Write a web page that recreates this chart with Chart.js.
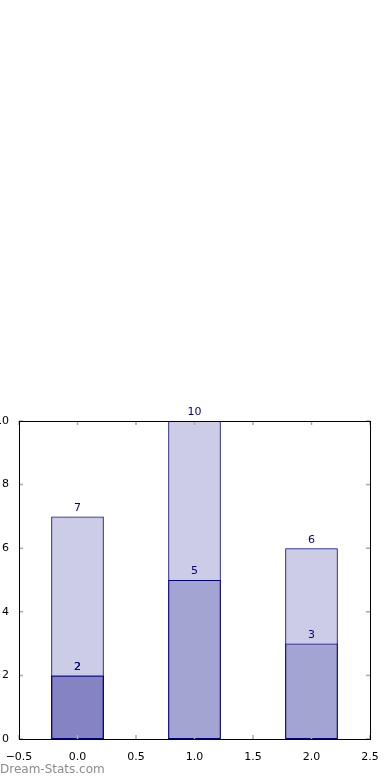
<!DOCTYPE html>
<html>
<head>
<meta charset="utf-8">
<script src="https://cdn.jsdelivr.net/npm/chart.js@4"></script>
<style>
    html, body { margin: 0; padding: 0; background: #fff; }
    .wrap { position: relative; width: 390px; height: 780px; }
    .brand {
        position: absolute; left: 0; top: 762px;
        font: 12px "DejaVu Sans", sans-serif; color: #8c8c8c;
    }
</style>
</head>
<body>
<div class="wrap">
    <canvas id="myChart" width="390" height="780"></canvas>
    <div class="brand">Dream-Stats.com</div>
</div>
<script>
const positions = [0, 1, 2]
const totals = [7, 10, 6]
const partA = [2, 5, 3]
const partB = [2, null, null]
const xTicks = [-0.5, 0, 0.5, 1, 1.5, 2, 2.5]
const yTicks = [0, 2, 4, 6, 8, 10]

const FONT = "DejaVu Sans"
const fill = "rgba(0, 0, 128, 0.2)"

function points(values) {
    return positions
        .map((x, i) => ({ x: x, y: values[i] }))
        .filter((p) => p.y !== null)
}

// el ancho sale del paso entre marcas (0.5), barra de 0.45
function makeSet(name, values) {
    return {
        label: name,
        data: points(values),
        backgroundColor: fill,
        borderColor: "#000080",
        borderWidth: 1,
        borderSkipped: false,
        categoryPercentage: 1,
        barPercentage: 0.9,
    }
}

// etiquetas sobre cada barra
const barLabels = {
    id: "barLabels",
    afterDatasetsDraw(chart) {
        const ctx = chart.ctx
        ctx.save()
        ctx.font = "11px " + FONT
        ctx.fillStyle = "#000080"
        ctx.textAlign = "center"
        ctx.textBaseline = "bottom"
        chart.data.datasets.forEach((ds, i) => {
            chart.getDatasetMeta(i).data.forEach((bar, j) => {
                ctx.fillText(ds.data[j].y, bar.x, bar.y - 3)
            })
        })
        ctx.restore()
    },
}

// marco y marcas estilo matplotlib
const frame = {
    id: "frame",
    afterDraw(chart) {
        const a = chart.chartArea
        const ctx = chart.ctx
        const xs = chart.scales.x
        const ys = chart.scales.y
        ctx.save()
        ctx.strokeStyle = "#aaa"
        ctx.lineWidth = 1.5
        ctx.beginPath()
        xTicks.forEach((v) => {
            const px = xs.getPixelForValue(v)
            ctx.moveTo(px, a.bottom); ctx.lineTo(px, a.bottom - 4)
            ctx.moveTo(px, a.top); ctx.lineTo(px, a.top + 4)
        })
        yTicks.forEach((v) => {
            const py = ys.getPixelForValue(v)
            ctx.moveTo(a.left, py); ctx.lineTo(a.left + 4, py)
            ctx.moveTo(a.right, py); ctx.lineTo(a.right - 4, py)
        })
        ctx.stroke()
        ctx.strokeStyle = "#000"
        ctx.lineWidth = 1
        ctx.strokeRect(Math.round(a.left) + 0.5, Math.round(a.top) + 0.5,
            Math.round(a.right - a.left), Math.round(a.bottom - a.top))
        ctx.restore()
    },
}

new Chart(document.getElementById("myChart"), {
    type: "bar",
    data: {
        datasets: [
            makeSet("total", totals),
            makeSet("a", partA),
            makeSet("b", partB),
        ],
    },
    options: {
        responsive: false,
        animation: false,
        layout: { padding: { top: 421, right: 20, left: 0, bottom: 0 } },
        plugins: { legend: { display: false }, tooltip: { enabled: false } },
        scales: {
            x: {
                type: "linear",
                stacked: true,
                offset: false,
                min: -0.5,
                max: 2.5,
                afterBuildTicks: (s) => { s.ticks = xTicks.map((v) => ({ value: v })) },
                afterFit: (s) => { s.height = 41 },
                grid: { display: false, offset: false },
                border: { display: false },
                ticks: {
                    color: "#000",
                    font: { family: FONT, size: 11 },
                    padding: 4,
                    maxRotation: 0,
                    autoSkip: false,
                    callback: (v) => v.toFixed(1).replace("-", "\u2212"),
                },
            },
            y: {
                min: 0,
                max: 10,
                afterBuildTicks: (s) => { s.ticks = yTicks.map((v) => ({ value: v })) },
                afterFit: (s) => { s.width = 19 },
                grid: { display: false },
                border: { display: false },
                ticks: {
                    color: "#000",
                    font: { family: FONT, size: 11 },
                    padding: 2,
                },
            },
        },
    },
    plugins: [barLabels, frame],
})
</script>
</body>
</html>
